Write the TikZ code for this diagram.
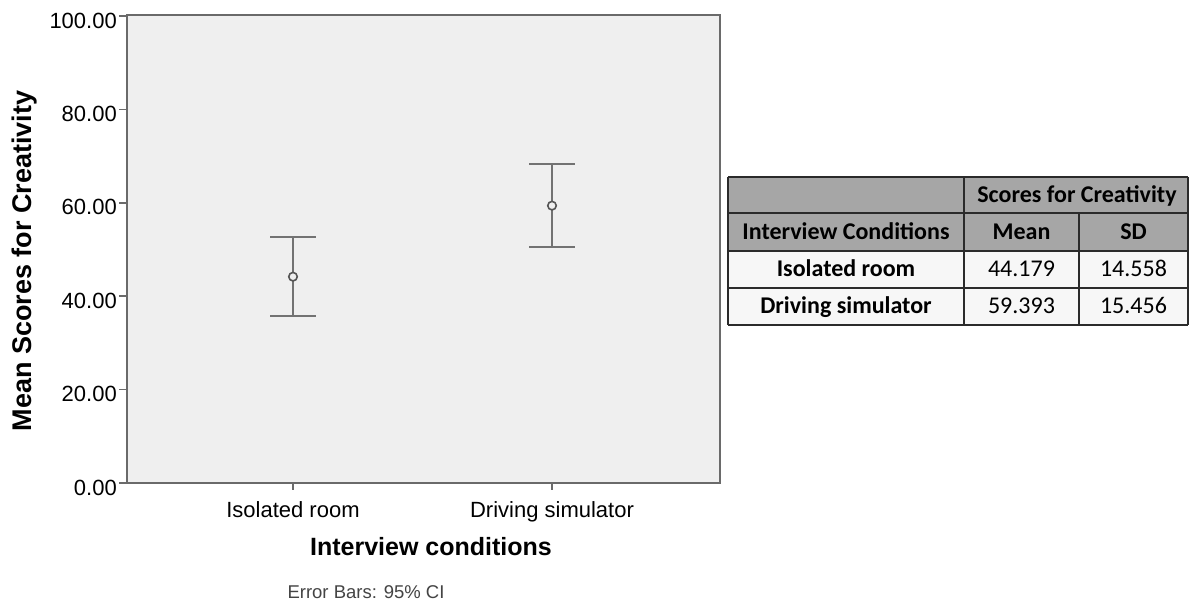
\documentclass[tikz,border=0pt]{standalone}
\usepackage{fontspec}
\setmainfont{Liberation Sans}
\newfontfamily\calibri{Carlito}
\definecolor{plotbg}{HTML}{EFEFEF}
\definecolor{axisgray}{HTML}{6A6A6A}
\definecolor{bargray}{HTML}{727272}
\definecolor{markgray}{HTML}{555555}
\definecolor{headgray}{HTML}{A6A6A6}
\definecolor{rowbg}{HTML}{F7F7F7}
\definecolor{rulecol}{HTML}{2B2B2B}
\definecolor{notegray}{HTML}{444444}
\begin{document}
\begin{tikzpicture}[x=1pt,y=-1pt,
  axis/.style={draw=axisgray, line width=2pt},
  tickmark/.style={draw=axisgray, line width=1.6pt},
  ticklab/.style={anchor=base east, inner sep=0pt, font=\fontsize{22}{24}\selectfont},
  catlab/.style={anchor=base, inner sep=0pt, font=\fontsize{22}{24}\selectfont},
  axtitle/.style={anchor=base, inner sep=0pt, font=\bfseries\fontsize{25}{28}\selectfont},
  ebar/.style={draw=bargray, line width=2pt},
  meanmark/.style={circle, draw=markgray, fill=plotbg, line width=1.6pt, minimum size=8.5pt, inner sep=0pt},
  tabrule/.style={draw=rulecol, line width=1.4pt},
  tabhead/.style={anchor=base, inner sep=0pt, font=\calibri\bfseries\fontsize{24}{26}\selectfont},
  tabcell/.style={anchor=base, inner sep=0pt, font=\calibri\fontsize{24}{26}\selectfont}
]
\useasboundingbox[fill=white] (0,0) rectangle (1190,603);

% plotting area
\fill[plotbg] (127,15) rectangle (720,483);
\draw[axis] (127,15) rectangle (720,483);

% y axis ticks and labels (value v sits at 483 - 4.67 v)
\foreach \v/\lab in {0/0.00,20/20.00,40/40.00,60/60.00,80/80.00,100/100.00}{
  \draw[tickmark] (119,{483-4.67*\v}) -- (127,{483-4.67*\v});
  \node[ticklab] (ytick\v) at (117,{483-4.67*\v+12}) {\lab};
}

% x axis ticks and category labels
\foreach \x/\name/\lab in {293/iso/Isolated room, 552/drv/Driving simulator}{
  \draw[tickmark] (\x,483) -- (\x,490);
  \node[catlab] (cat\name) at (\x,517) {\lab};
}

% axis titles
\node[axtitle] (xtitle) at (431,555) {Interview conditions};
\node[axtitle, rotate=90, font=\bfseries\fontsize{27}{30}\selectfont] (ytitle) at (31,261) {Mean Scores for Creativity};
\node[anchor=base, inner sep=0pt, text=notegray, font=\fontsize{18.5}{20}\selectfont] (note) at (366,598) {Error Bars: 95\% CI};

% error bars: mean with 95% confidence interval
\foreach \x/\name/\lo/\m/\hi in {293/iso/35.8/44.18/52.6, 552/drv/50.5/59.39/68.3}{
  \coordinate (\name hi) at (\x,{483-4.67*\hi});
  \coordinate (\name lo) at (\x,{483-4.67*\lo});
  \draw[ebar] ([xshift=-23pt]\name hi) -- ([xshift=23pt]\name hi);
  \draw[ebar] ([xshift=-23pt]\name lo) -- ([xshift=23pt]\name lo);
  \draw[ebar] (\name hi) -- (\name lo);
  \node[meanmark] (\name mean) at (\x,{483-4.67*\m}) {};
}

% summary table
\fill[headgray] (728,177) rectangle (1188,251);
\fill[rowbg] (728,251) rectangle (1188,325);
\foreach \y in {177,213,251,288,325}{
  \draw[tabrule] (728,\y) -- (1188,\y);
}
\draw[tabrule] (728,177) -- (728,325);
\draw[tabrule] (964,177) -- (964,325);
\draw[tabrule] (1079,213) -- (1079,325);
\draw[tabrule] (1188,177) -- (1188,325);

\node[tabhead] (hscores) at (1077,202) {Scores for Creativity};
\node[tabhead] (hcond) at (846,239) {Interview Conditions};
\node[tabhead] (hmean) at (1021.5,239) {Mean};
\node[tabhead] (hsd) at (1133.5,239) {SD};
\node[tabhead] (riso) at (846,276.5) {Isolated room};
\node[tabcell] (misso) at (1021.5,276.5) {44.179};
\node[tabcell] (siso) at (1133.5,276.5) {14.558};
\node[tabhead] (rdrv) at (846,313.5) {Driving simulator};
\node[tabcell] (mdrv) at (1021.5,313.5) {59.393};
\node[tabcell] (sdrv) at (1133.5,313.5) {15.456};
\end{tikzpicture}
\end{document}
